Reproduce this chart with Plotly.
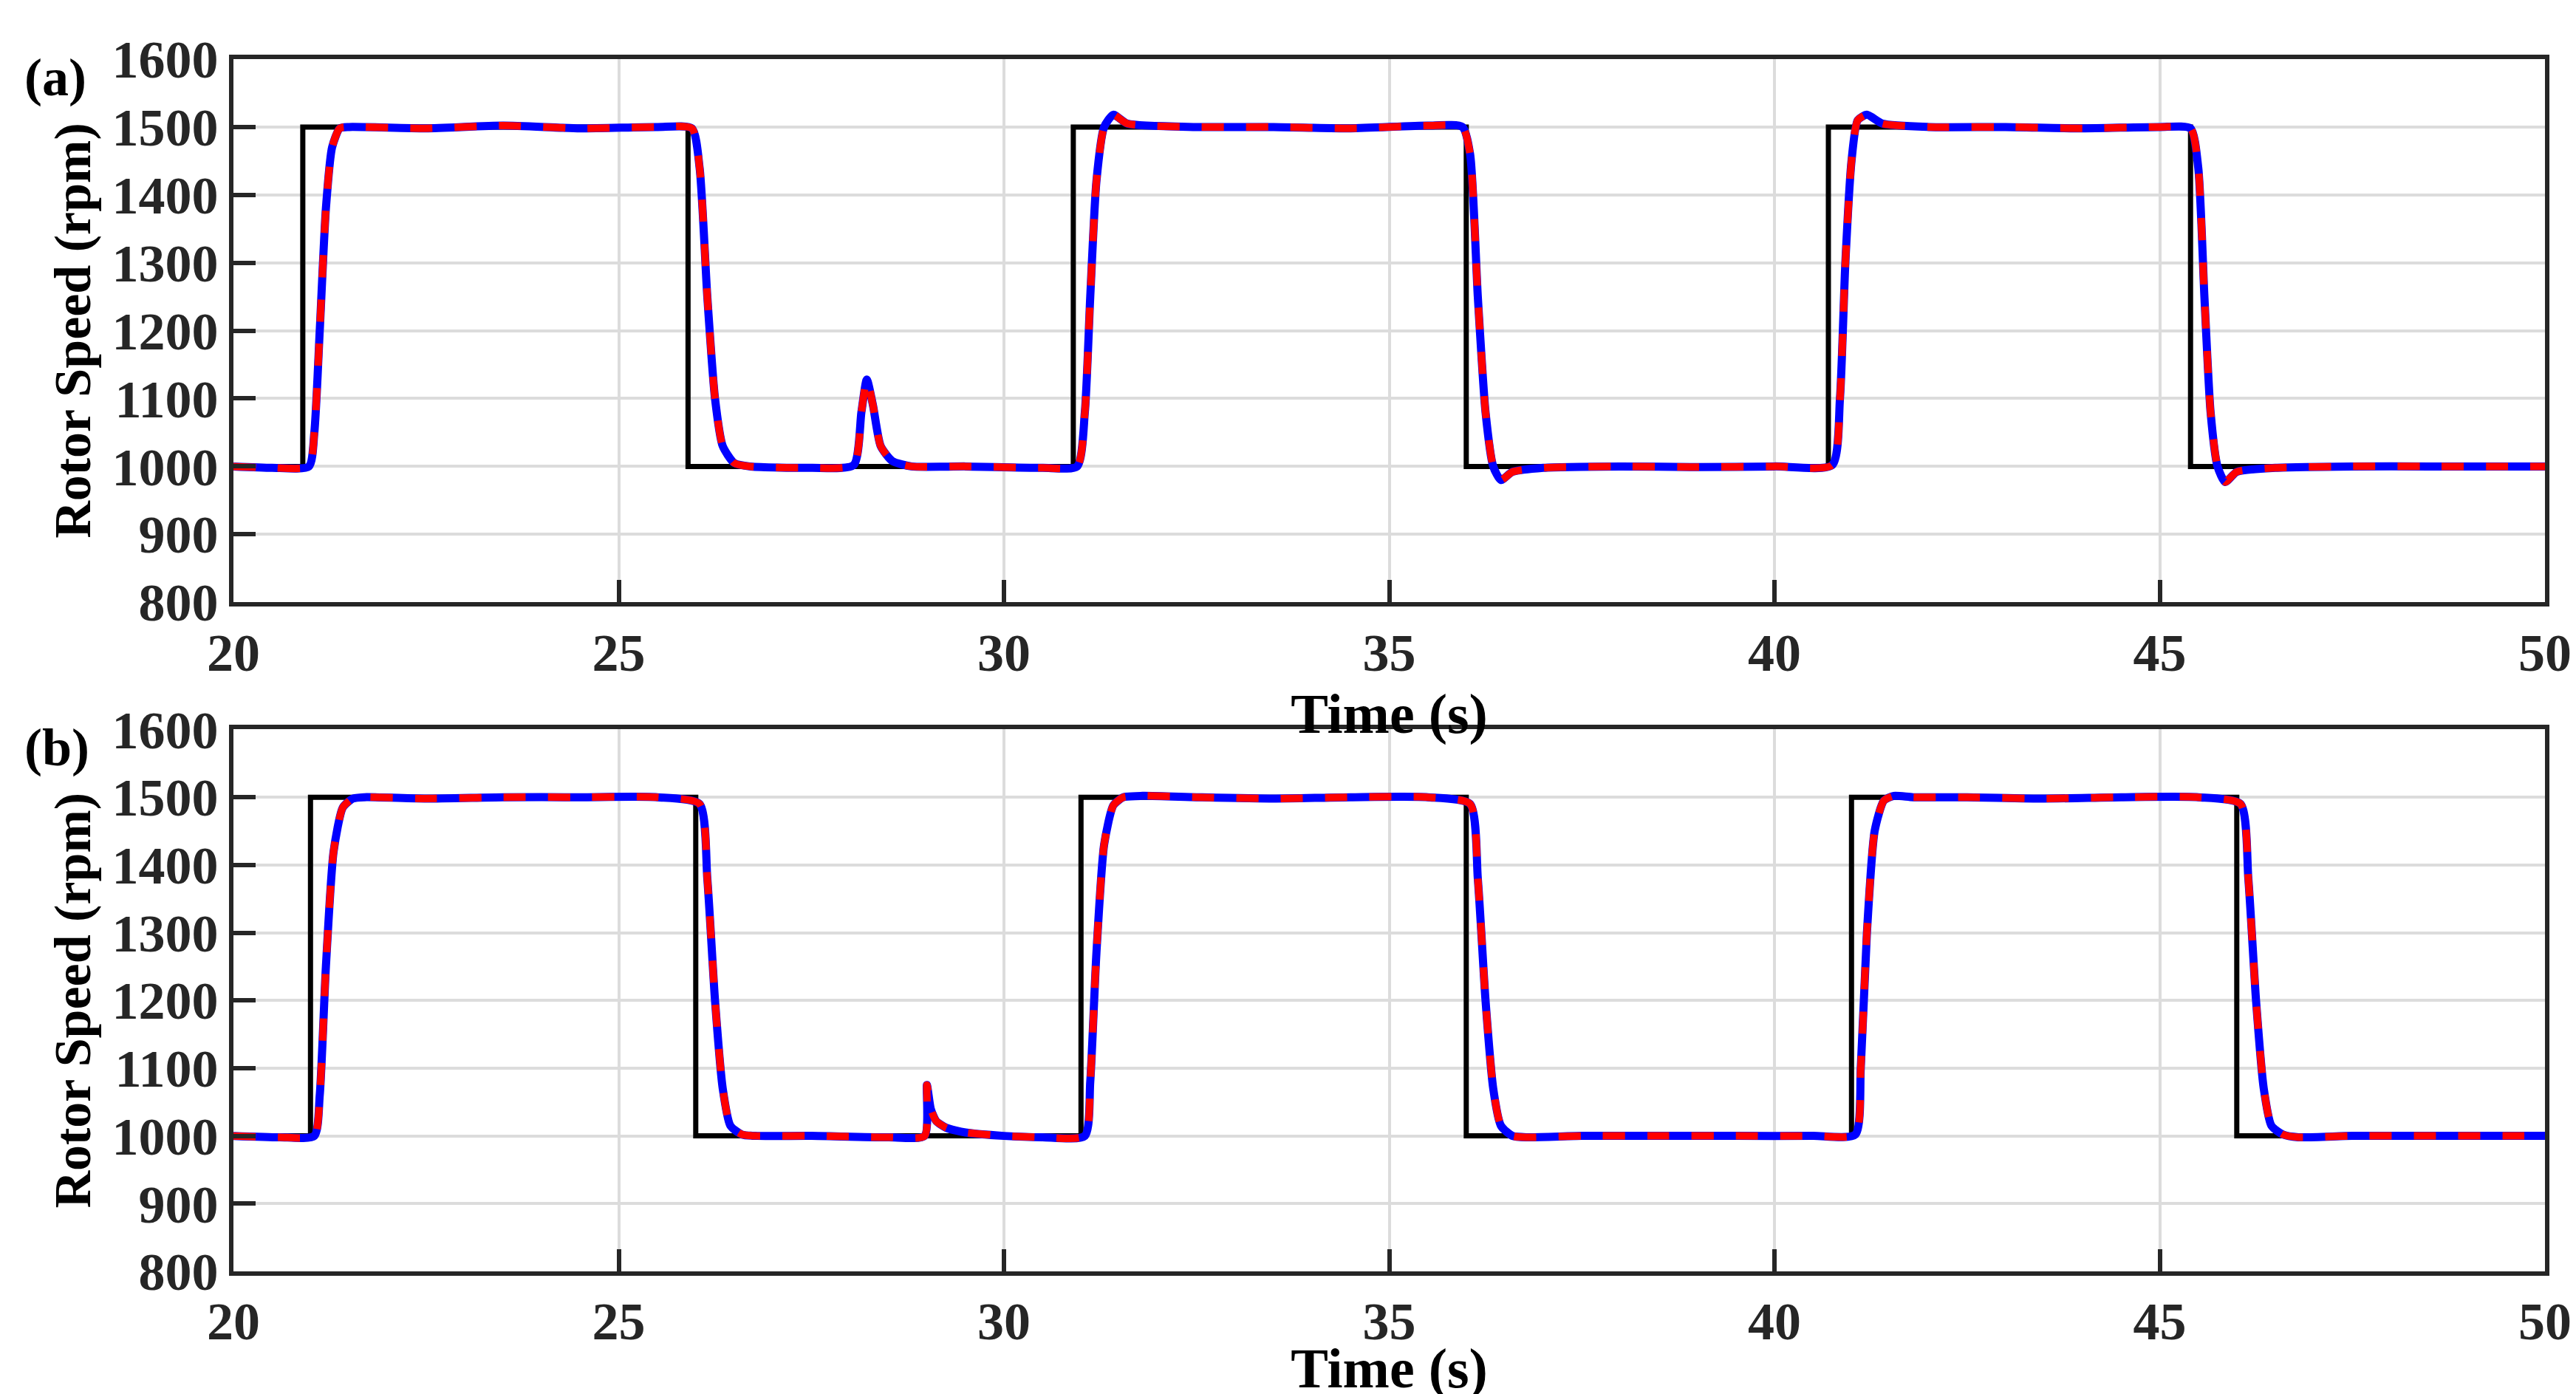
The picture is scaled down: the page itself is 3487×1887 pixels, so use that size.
import plotly.graph_objects as go

# Panel (a)
ref_a_t = [20, 20.9, 20.9, 25.9, 25.9, 30.9, 30.9, 36.0, 36.0, 40.7, 40.7, 45.4, 45.4, 50]
ref_a_v = [1000, 1000, 1500, 1500, 1000, 1000, 1500, 1500, 1000, 1000, 1500, 1500, 1000, 1000]
res_a_t = [20, 20.5, 20.98, 21.05, 21.12, 21.2, 21.28, 21.38, 21.5, 22.5, 23.5, 24.5, 25.5, 25.95, 26.05, 26.15, 26.25, 26.35, 26.5, 26.7, 27.5, 28.05, 28.15, 28.22, 28.3, 28.4, 28.55, 28.8, 29.5, 30.5, 30.95, 31.05, 31.12, 31.2, 31.3, 31.42, 31.6, 32.5, 33.5, 34.5, 35.5, 35.95, 36.05, 36.15, 36.25, 36.35, 36.45, 36.6, 37.0, 38.0, 39.0, 40.0, 40.75, 40.85, 40.92, 41.0, 41.08, 41.2, 41.4, 42.0, 43.0, 44.0, 45.0, 45.4, 45.5, 45.58, 45.66, 45.75, 45.85, 46.0, 46.5, 47.5, 48.5, 50]
res_a_v = [1000, 998, 1000, 1050, 1200, 1380, 1470, 1498, 1500, 1498, 1502, 1498, 1500, 1498, 1440, 1250, 1100, 1030, 1005, 1000, 998, 1002, 1080, 1128, 1090, 1030, 1008, 1000, 1000, 998, 1000, 1080, 1250, 1420, 1500, 1518, 1505, 1500, 1500, 1498, 1502, 1500, 1460, 1250, 1080, 1000, 980, 992, 998, 1000, 999, 1000, 1002, 1100, 1300, 1450, 1510, 1518, 1505, 1500, 1500, 1498, 1500, 1498, 1440, 1250, 1080, 1000, 977, 992, 998, 1000, 1000, 1000]

# Panel (b)
ref_b_t = [20, 21.0, 21.0, 26.0, 26.0, 31.0, 31.0, 36.0, 36.0, 41.0, 41.0, 46.0, 46.0, 50]
ref_b_v = [1000, 1000, 1500, 1500, 1000, 1000, 1500, 1500, 1000, 1000, 1500, 1500, 1000, 1000]
res_b_t = [20, 20.6, 21.05, 21.12, 21.2, 21.3, 21.42, 21.55, 21.7, 22.5, 23.5, 24.5, 25.5, 26.05, 26.15, 26.25, 26.35, 26.45, 26.6, 26.8, 27.5, 28.5, 28.97, 29.0, 29.05, 29.12, 29.25, 29.5, 30.0, 30.5, 31.05, 31.12, 31.2, 31.3, 31.42, 31.55, 31.8, 32.5, 33.5, 34.5, 35.5, 36.05, 36.15, 36.25, 36.35, 36.45, 36.6, 36.8, 37.5, 38.5, 39.5, 40.5, 41.05, 41.12, 41.2, 41.3, 41.42, 41.55, 41.8, 42.5, 43.5, 44.5, 45.5, 46.05, 46.15, 46.25, 46.35, 46.45, 46.6, 46.8, 47.5, 48.5, 49.5, 50]
res_b_v = [1000, 998, 1000, 1060, 1250, 1420, 1485, 1498, 1500, 1498, 1500, 1500, 1500, 1490, 1380, 1200, 1070, 1015, 1002, 1000, 1000, 998, 1000, 1075, 1040, 1022, 1012, 1005, 1000, 998, 1000, 1080, 1270, 1430, 1488, 1500, 1502, 1500, 1498, 1500, 1500, 1490, 1380, 1200, 1070, 1015, 1000, 998, 1000, 1000, 1000, 1000, 1002, 1100, 1300, 1450, 1495, 1502, 1500, 1500, 1498, 1500, 1500, 1490, 1380, 1200, 1070, 1015, 1002, 998, 1000, 1000, 1000, 1000]

FONT = "Liberation Serif"
fig = go.Figure()
for i, (rt, rv, st, sv) in enumerate([(ref_a_t, ref_a_v, res_a_t, res_a_v), (ref_b_t, ref_b_v, res_b_t, res_b_v)]):
    xa = "x" if i == 0 else "x2"
    ya = "y" if i == 0 else "y2"
    fig.add_trace(go.Scatter(x=rt, y=rv, mode="lines", line=dict(color="black", width=7), xaxis=xa, yaxis=ya))
    fig.add_trace(go.Scatter(x=st, y=sv, mode="lines", line=dict(color="blue", width=11, shape="spline", smoothing=0.6), xaxis=xa, yaxis=ya))
    fig.add_trace(go.Scatter(x=st, y=sv, mode="lines", line=dict(color="red", width=10, dash="dash", shape="spline", smoothing=0.6), xaxis=xa, yaxis=ya))

tfont = dict(family=FONT, size=72, color="#262626", weight="bold")
axcommon = dict(showline=True, mirror=True, linecolor="#262626", linewidth=6,
                ticks="inside", ticklen=30, tickwidth=6, tickcolor="#262626",
                showgrid=True, gridcolor="#dcdcdc", gridwidth=4, zeroline=False,
                tickfont=tfont)
xax = dict(axcommon, range=[20, 50], tickvals=[20, 25, 30, 35, 40, 45, 50],
           title=dict(text="Time (s)", font=dict(family=FONT, size=76, color="black", weight="bold"), standoff=0))
yax = dict(axcommon, range=[800, 1600], tickvals=list(range(800, 1700, 100)),
           title=dict(text="Rotor Speed (rpm)", font=dict(family=FONT, size=70, color="black", weight="bold"), standoff=8))

fig.update_layout(
    width=3487, height=1887, showlegend=False,
    plot_bgcolor="white", paper_bgcolor="white",
    margin=dict(l=308, r=50, t=72, b=155),
    font=dict(family=FONT, size=72, color="#262626"),
    xaxis=dict(xax, domain=[0, 1], anchor="y"),
    yaxis=dict(yax, domain=[0.552, 1], anchor="x"),
    xaxis2=dict(xax, domain=[0, 1], anchor="y2"),
    yaxis2=dict(yax, domain=[0, 0.447], anchor="x2"),
    annotations=[
        dict(text="<b>(a)</b>", xref="paper", yref="paper", x=-0.091, y=0.985,
             xanchor="left", yanchor="middle", showarrow=False, font=dict(family=FONT, size=72, color="black")),
        dict(text="<b>(b)</b>", xref="paper", yref="paper", x=-0.091, y=0.432,
             xanchor="left", yanchor="middle", showarrow=False, font=dict(family=FONT, size=72, color="black")),
    ],
)
fig.write_html("out.html")
